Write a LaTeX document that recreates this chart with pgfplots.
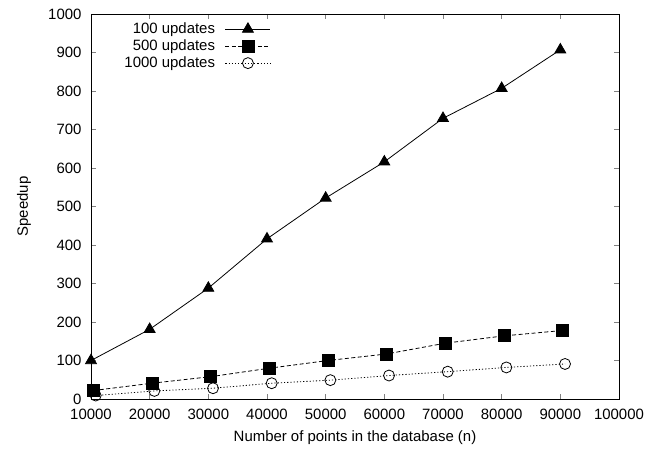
\documentclass[border=0pt]{standalone}
\usepackage{pgfplots}
\pgfplotsset{compat=1.18}
\usepackage{fontspec}
\setmainfont{Liberation Sans}
\begin{document}
\begin{tikzpicture}[x=1bp,y=1bp,font=\fontsize{15}{18}\selectfont]
\begin{axis}[
  scale only axis,
  width=528bp, height=385bp,
  xmin=10000, xmax=100000, ymin=0, ymax=1000,
  xtick={10000,20000,30000,40000,50000,60000,70000,80000,90000,100000},
  xticklabels={10000,20000,30000,40000,50000,60000,70000,80000,90000,100000},
  ytick={0,100,200,300,400,500,600,700,800,900,1000},
  yticklabels={0,100,200,300,400,500,600,700,800,900,1000},
  scaled ticks=false,
  tick align=inside,
  major tick length=5bp,
  tick style={line width=0.8pt},
  axis line style={line width=0.8pt},
  xticklabel style={yshift=-7bp},
  yticklabel style={xshift=-6bp},
  xlabel={Number of points in the database (n)},
  ylabel={Speedup},
  xlabel style={at={(axis description cs:0.5,0)}, anchor=north, yshift=-28bp},
  ylabel style={at={(axis description cs:-0.127,0.5)}, anchor=center},
  legend style={draw=none, fill=none, at={(0.341,0.982)}, anchor=north east,
    row sep=1bp, inner sep=0pt,
    nodes={inner sep=1bp, text height=11bp, text depth=3bp}},
  legend cell align=right,
  legend plot pos=right,
  legend image code/.code={
    \path (0bp,0bp);
    \draw[#1] (9bp,0bp) -- (54bp,0bp);
    \draw[#1, solid] plot coordinates {(31.5bp,0bp)};
  },
]
\addplot[black, line width=0.8pt, mark=triangle*, mark size=6.3bp, mark options={solid}]
  coordinates {(10000,100) (20000,181) (30000,288) (40000,416) (50000,522) (60000,616) (70000,729) (80000,807) (90000,907)};
\addlegendentry{100 updates}
\addplot[black, line width=0.8pt, dash pattern=on 4bp off 2.5bp, mark=square*, mark size=6bp, mark options={solid}]
  coordinates {(10400,22) (20400,41) (30400,58) (40400,80) (50400,100) (60400,117) (70400,145) (80400,164) (90400,178)};
\addlegendentry{500 updates}
\addplot[black, line width=0.8pt, dash pattern=on 1.2bp off 2bp, mark=o, mark size=5.5bp, mark options={solid, fill=white}]
  coordinates {(10800,9) (20800,21) (30800,28) (40800,41) (50800,49) (60800,61) (70800,71) (80800,82) (90800,91)};
\addlegendentry{1000 updates}
\end{axis}
\path (current axis.south west) ++(-91bp,-50bp);
\path (current axis.north east) ++(30bp,14bp);
\end{tikzpicture}
\end{document}
